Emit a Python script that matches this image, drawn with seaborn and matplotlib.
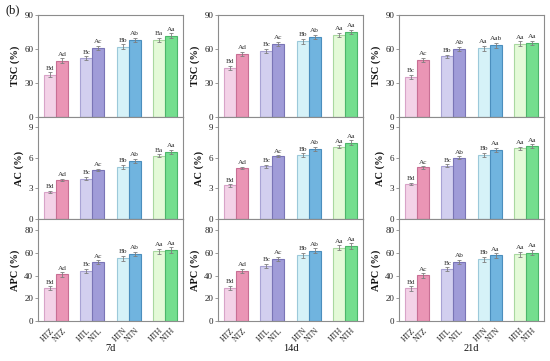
import numpy as np
import pandas as pd
import matplotlib
matplotlib.use("Agg")
import matplotlib.pyplot as plt
import seaborn as sns

# ---------------- data ----------------
groups = ["HTZ", "NTZ", "HTL", "NTL", "HTN", "NTN", "HTH", "NTH"]
days = ["7d", "14d", "21d"]
metrics = ["TSC (%)", "AC (%)", "APC (%)"]

tsc_7 = [37.5, 49.7, 51.8, 61.0, 61.8, 67.8, 68.0, 71.5]
tsc_14 = [43.6, 55.5, 58.5, 64.6, 66.8, 70.5, 72.5, 75.0]
tsc_21 = [35.6, 50.5, 53.4, 60.2, 60.8, 63.3, 64.8, 65.3]
ac_7 = [2.63, 3.80, 3.97, 4.80, 5.13, 5.73, 6.20, 6.60]
ac_14 = [3.30, 5.00, 5.15, 6.15, 6.25, 6.90, 7.10, 7.50]
ac_21 = [3.45, 5.05, 5.20, 6.02, 6.30, 6.78, 6.95, 7.15]
apc_7 = [29.0, 41.2, 44.3, 51.8, 55.3, 59.2, 61.5, 62.5]
apc_14 = [29.5, 44.0, 48.5, 55.0, 58.0, 62.0, 64.8, 66.0]
apc_21 = [28.7, 40.2, 45.5, 52.3, 54.3, 57.8, 58.9, 60.4]

tsc_err = [1.8, 2.0, 1.6, 1.8, 2.2, 2.0, 2.0, 2.2]
ac_err = [0.12, 0.12, 0.15, 0.12, 0.2, 0.2, 0.15, 0.2]
apc_err = [1.8, 2.0, 1.8, 1.8, 2.2, 2.0, 2.2, 2.4]

tsc_sig_7 = ["Bd", "Ad", "Bc", "Ac", "Bb", "Ab", "Ba", "Aa"]
tsc_sig_14 = ["Bd", "Ad", "Bc", "Ac", "Bb", "Ab", "Aa", "Aa"]
tsc_sig_21 = ["Bc", "Ac", "Bb", "Ab", "Aa", "Aab", "Aa", "Aa"]
ac_sig_7 = ["Bd", "Ad", "Bc", "Ac", "Bb", "Ab", "Ba", "Aa"]
ac_sig_14 = ["Bd", "Ad", "Bc", "Ac", "Bb", "Ab", "Aa", "Aa"]
ac_sig_21 = ["Bd", "Ac", "Bc", "Ab", "Bb", "Aa", "Aa", "Aa"]
apc_sig_7 = ["Bd", "Ad", "Bc", "Ac", "Bb", "Ab", "Aa", "Aa"]
apc_sig_14 = ["Bd", "Ad", "Bc", "Ac", "Bb", "Ab", "Aa", "Aa"]
apc_sig_21 = ["Bd", "Ac", "Bc", "Ab", "Bb", "Aa", "Aa", "Aa"]

face_colors = ["#F3D2E7", "#EA95B5", "#D2CFEF", "#A09CD8",
               "#D6F2F8", "#70B4DF", "#E4FAD8", "#74DE8E"]
edge_colors = ["#D8A3C8", "#C86F94", "#A8A3D4", "#7A75B6",
               "#9CC9DA", "#4B8EBD", "#A9D8A0", "#4CB66A"]

values = [[tsc_7, tsc_14, tsc_21], [ac_7, ac_14, ac_21], [apc_7, apc_14, apc_21]]
errors = [tsc_err, ac_err, apc_err]
sigs = [[tsc_sig_7, tsc_sig_14, tsc_sig_21],
        [ac_sig_7, ac_sig_14, ac_sig_21],
        [apc_sig_7, apc_sig_14, apc_sig_21]]
ylims = [(0, 90), (0, 10), (0, 90)]
yticks = [[0, 30, 60, 90], [0, 3, 6, 9], [0, 20, 40, 60, 80]]

positions = [0, 1, 3, 4, 6, 7, 9, 10]

# ---------------- style ----------------
sns.set_theme(style="ticks")
plt.rcParams["font.family"] = ["Liberation Serif", "DejaVu Serif"]

W, H = 550, 361
fig = plt.figure(figsize=(W / 100, H / 100), dpi=100)

col_left = [38, 218, 399]
col_w = 145
row_top = [15, 117, 219]
row_h = 102

spine_c = "#8c8c8c"

for c in range(3):
    for r in range(3):
        ax = fig.add_axes([col_left[c] / W, 1 - (row_top[r] + row_h) / H,
                           col_w / W, row_h / H])
        vals = values[r][c]
        df = pd.DataFrame({"pos": positions, "val": vals, "grp": groups})
        sns.barplot(data=df, x="pos", y="val", hue="grp", hue_order=groups,
                    palette=face_colors, native_scale=True, width=1,
                    errorbar=None, legend=False, saturation=1, dodge=False,
                    linewidth=0.8, ax=ax)
        for p in ax.patches:
            xc = p.get_x() + p.get_width() / 2
            i = int(np.argmin([abs(xc - q) for q in positions]))
            p.set_edgecolor(edge_colors[i])
            p.set_linewidth(0.8)
        ax.errorbar(positions, vals, yerr=errors[r], fmt="none",
                    ecolor="#7f7f7f", elinewidth=0.6, capsize=1.5,
                    capthick=0.6, zorder=5)
        span = ylims[r][1]
        for x, v, e, s in zip(positions, vals, errors[r], sigs[r][c]):
            ax.text(x, v + e + span * 0.015, s, ha="center", va="bottom",
                    fontsize=5.2, color="#333333")
        ax.set_xlim(-1, 11)
        ax.set_ylim(*ylims[r])
        ax.set_yticks(yticks[r])
        ax.tick_params(axis="y", labelsize=6.5, length=2.5, width=0.6,
                       colors=spine_c, labelcolor="#222222", pad=1)
        ax.set_ylabel(metrics[r], fontsize=7.5, fontweight="bold",
                      labelpad=3, color="#111111")
        for sp in ax.spines.values():
            sp.set_color(spine_c)
            sp.set_linewidth(0.8)
        if r == 2:
            ax.set_xticks(positions)
            ax.set_xticklabels(groups, rotation=45, ha="right",
                               rotation_mode="anchor", fontsize=5.8,
                               color="#222222")
            ax.tick_params(axis="x", length=0, pad=4)
            ax.set_xlabel(days[c], fontsize=7.5, labelpad=0, color="#111111")
        else:
            ax.set_xticks([])
            ax.set_xlabel("")

fig.text(5 / W, 1 - 10 / H, "(b)", fontsize=9, ha="left", va="center",
         color="#111111")

fig.savefig("out.png", dpi=100)
